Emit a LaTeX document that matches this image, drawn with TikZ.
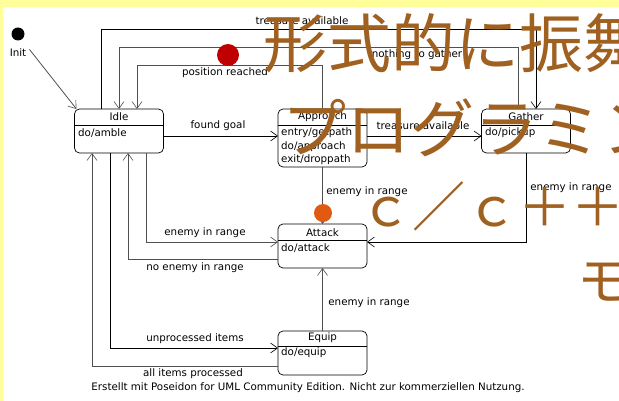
\documentclass[tikz,border=0pt]{standalone}
\usepackage{fontspec}
\newfontfamily\uml{DejaVu Sans}
\newfontfamily\jp{Noto Sans CJK JP}
\usetikzlibrary{arrows.meta}
\definecolor{ybg}{HTML}{FFFF99}
\definecolor{connc}{HTML}{505050}
\definecolor{brownov}{HTML}{A0601F}
\definecolor{reddot}{HTML}{C00000}
\definecolor{orangedot}{HTML}{E05A12}
\tikzset{
  statebox/.style={draw=black, line width=0.7pt, rounded corners=5pt, minimum width=89pt, inner sep=0pt, outer sep=0pt},
  conn/.style={draw=connc, line width=0.8pt, -{Straight Barb[length=7pt,width=10pt,line width=0.6pt]}},
  lbl/.style={font=\uml\fontsize{10.3}{12}\selectfont, inner sep=0pt},
  sep/.style={draw=black, line width=0.7pt},
  ovl/.style={text=brownov, inner sep=0pt, anchor=base west}
}
\begin{document}
\begin{tikzpicture}[x=1pt,y=-1pt]
\useasboundingbox (0,0) rectangle (619,401);
\fill[ybg] (0,0) rectangle (619,401);
\fill[white] (3,7) rectangle (619,401);

% states
\node[statebox, minimum height=44pt] (idle) at (119,131) {};
\node[statebox, minimum height=58pt] (approach) at (322.5,138) {};
\node[statebox, minimum height=44pt] (gather) at (526,131) {};
\node[statebox, minimum height=44pt] (attack) at (322.5,246) {};
\node[statebox, minimum height=44pt] (equip) at (322.5,353) {};

\draw[sep] ([yshift=-16pt]idle.north west) -- ([yshift=-16pt]idle.north east);
\draw[sep] ([yshift=-16pt]approach.north west) -- ([yshift=-16pt]approach.north east);
\draw[sep] ([yshift=-16pt]gather.north west) -- ([yshift=-16pt]gather.north east);
\draw[sep] ([yshift=-16pt]attack.north west) -- ([yshift=-16pt]attack.north east);
\draw[sep] ([yshift=-15pt]equip.north west) -- ([yshift=-15pt]equip.north east);

\node[lbl] (idlet) at (119,117) {Idle};
\node[lbl, anchor=west] (idleb) at (78,133) {do/amble};
\node[lbl] (appt) at (322.5,117) {Approach};
\node[lbl, anchor=west] (appb1) at (281,133) {entry/getpath};
\node[lbl, anchor=west] (appb2) at (281,146.5) {do/approach};
\node[lbl, anchor=west] (appb3) at (281,160) {exit/droppath};
\node[lbl] (gatt) at (526,117) {Gather};
\node[lbl, anchor=west] (gatb) at (485,133) {do/pickup};
\node[lbl] (attt) at (322.5,232.5) {Attack};
\node[lbl, anchor=west] (attb) at (281,248) {do/attack};
\node[lbl] (equt) at (322.5,338) {Equip};
\node[lbl, anchor=west] (equb) at (281,353) {do/equip};

% initial
\node[circle, fill=black, minimum size=13pt, inner sep=0pt] (init) at (18,34) {};
\node[lbl] (initl) at (18,52.5) {Init};
\draw[conn] ([xshift=3pt,yshift=-1pt]initl.north east) -- ([xshift=2pt]idle.north west);

% connectors
\draw[conn, draw=black] ([xshift=-18pt]idle.north) |- ([xshift=10pt,yshift=80pt]gather.north) -- ([xshift=10pt]gather.north);
\draw[conn] ([xshift=-8pt]gather.north) |- ([yshift=62pt]idle.north) -- (idle.north);
\draw[conn] (approach.north) |- ([xshift=18pt,yshift=44pt]idle.north) -- ([xshift=18pt]idle.north);
\draw[conn, draw=black] ([yshift=-27pt]idle.north east) -- ([yshift=-27pt]approach.north west);
\draw[conn, draw=black] ([yshift=-27pt]approach.north east) -- ([yshift=-27pt]gather.north west);
\draw[conn] (approach.south) -- (attack.north);
\draw[conn] ([xshift=27pt]idle.south) |- ([yshift=-18pt]attack.north west);
\draw[conn] ([yshift=-35pt]attack.north west) -| ([xshift=9pt]idle.south);
\draw[conn, draw=black] (gather.south) |- ([yshift=-18pt]attack.north east);
\draw[conn] (equip.north) -- (attack.south);
\draw[conn, draw=black] ([xshift=-9pt]idle.south) |- ([yshift=-17pt]equip.north west);
\draw[conn] ([yshift=-35pt]equip.north west) -| ([xshift=-27pt]idle.south);

% labels
\node[lbl] (l1) at (302,21) {treasure available};
\node[lbl] (l2) at (417,55) {nothing to gather};
\node[lbl] (l3) at (225,73) {position reached};
\node[lbl] (l4) at (218,126) {found goal};
\node[lbl] (l5) at (423,126) {treasure available};
\node[lbl] (l6) at (367,192) {enemy in range};
\node[lbl] (l7) at (205,233) {enemy in range};
\node[lbl] (l8) at (195,268) {no enemy in range};
\node[lbl] (l9) at (571,188) {enemy in range};
\node[lbl] (l10) at (369,303) {enemy in range};
\node[lbl] (l11) at (195,339) {unprocessed items};
\node[lbl] (l12) at (193,374) {all items processed};
\node[lbl] (foot) at (308,388) {Erstellt mit Poseidon for UML Community Edition. Nicht zur kommerziellen Nutzung.};

% dots
\node[circle, fill=reddot, minimum size=22pt, inner sep=0pt] (rdot) at (228,55) {};
\node[circle, fill=orangedot, minimum size=18pt, inner sep=0pt] (odot) at (323,213) {};

% overlay text
\begin{scope}
\clip (0,0) rectangle (619,401);
\node[ovl, font=\jp\fontsize{64}{64}\selectfont] (ov1) at (263,68) {形式的に振舞};
\node[ovl, font=\jp\fontsize{64}{64}\selectfont] (ov2) at (282,153) {プログラミン};
\node[ovl, font=\jp\fontsize{53}{53}\selectfont] (ov3) at (359,226) {ｃ／ｃ＋＋};
\node[ovl, font=\jp\fontsize{53}{53}\selectfont] (ov4) at (577,300) {モ};
\end{scope}
\end{tikzpicture}
\end{document}
